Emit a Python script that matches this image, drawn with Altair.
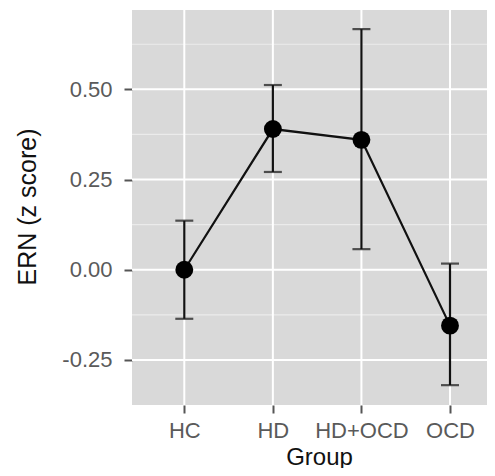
import altair as alt
import pandas as pd

groups = ["HC", "HD", "HD+OCD", "OCD"]
means = [0.0, 0.39, 0.36, -0.155]
lower = [-0.136, 0.271, 0.057, -0.32]
upper = [0.136, 0.512, 0.667, 0.017]

major_y = [-0.25, 0.0, 0.25, 0.5]
minor_y = [-0.125, 0.125, 0.375, 0.625]

df = pd.DataFrame({"Group": groups, "mean": means, "lo": lower, "hi": upper})
df_major = pd.DataFrame({"v": major_y})
df_minor = pd.DataFrame({"v": minor_y})
df_x = pd.DataFrame({"Group": groups})

FONT = "Liberation Sans"

x_scale = alt.Scale(type="point", domain=groups, range=[52.3, 318], padding=0)
y_scale = alt.Scale(domain=[-0.375, 0.72], nice=False, zero=False)

x_axis = alt.Axis(
    title="Group", domain=False, grid=False, ticks=True, tickSize=8, tickWidth=2,
    tickColor="#555555", labelColor="#5a5a5a", labelFont=FONT, labelFontSize=22,
    labelPadding=7, labelAngle=0, titleFont=FONT, titleFontSize=24,
    titleFontWeight="normal", titleColor="#111111", titleX=187, titleY=59,
    titleBaseline="alphabetic",
)
y_axis = alt.Axis(
    title="ERN (z score)", values=major_y, format=".2f",
    labelExpr="replace(datum.label, '\u2212', '-')",
    domain=False, grid=False,
    ticks=True, tickSize=8, tickWidth=2, tickColor="#555555", labelColor="#5a5a5a",
    labelFont=FONT, labelFontSize=22, labelPadding=12, titleFont=FONT,
    titleFontSize=25, titleFontWeight="normal", titleColor="#111111",
    titleX=-92, titleY=196.5,
)

def X(field):
    return alt.X(field, type="nominal", scale=x_scale, axis=x_axis, sort=groups)

def Y(field):
    return alt.Y(field, type="quantitative", scale=y_scale, axis=y_axis)

minor = alt.Chart(df_minor).mark_rule(color="#ebebeb", strokeWidth=1.2).encode(y=Y("v"))
major = alt.Chart(df_major).mark_rule(color="#ffffff", strokeWidth=2).encode(y=Y("v"))
xgrid = alt.Chart(df_x).mark_rule(color="#ffffff", strokeWidth=2).encode(x=X("Group"))

err = alt.Chart(df).mark_rule(color="#111111", strokeWidth=2.2).encode(
    x=X("Group"), y=Y("lo"), y2="hi"
)
cap_lo = alt.Chart(df).mark_tick(color="#111111", thickness=2.2, size=18, orient="horizontal").encode(
    x=X("Group"), y=Y("lo")
)
cap_hi = alt.Chart(df).mark_tick(color="#111111", thickness=2.2, size=18, orient="horizontal").encode(
    x=X("Group"), y=Y("hi")
)
line = alt.Chart(df).mark_line(color="#111111", strokeWidth=2.2).encode(
    x=X("Group"), y=Y("mean")
)
points = alt.Chart(df).mark_circle(color="#000000", opacity=1, size=320).encode(
    x=X("Group"), y=Y("mean")
)

chart = alt.layer(minor, major, xgrid, err, cap_lo, cap_hi, line, points).properties(
    width=355,
    height=395,
    autosize=alt.AutoSizeParams(type="none"),
    padding={"left": 124, "top": 2, "right": 0, "bottom": 63},
    background="#ffffff",
).configure_view(fill="#d9d9d9", stroke=None)

chart.save("out.html", embed_options={"renderer": "svg", "actions": False})
